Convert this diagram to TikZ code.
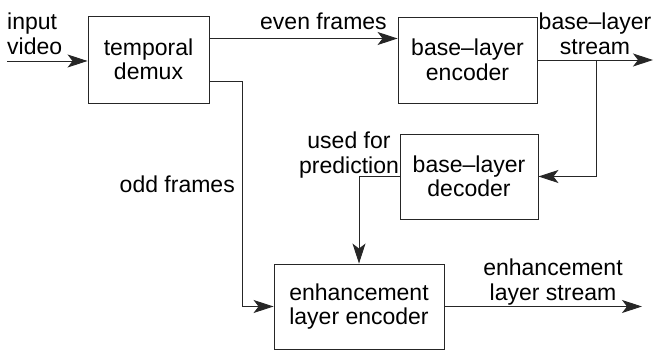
\documentclass[tikz,border=0pt]{standalone}
\usepackage{fontspec}
\setmainfont{Liberation Sans}
\usetikzlibrary{arrows.meta}
\begin{document}
\begin{tikzpicture}[x=1pt,y=-1pt,
  lbl/.style={inner sep=0pt, font=\fontsize{23}{24.5}\selectfont},
  block/.style={draw=black!85, line width=0.9pt, inner sep=0pt, align=center,
    font=\fontsize{23}{24.5}\selectfont},
  arr/.style={draw=black!85, line width=0.9pt,
    -{Stealth[length=20pt,width=13pt,inset=5pt]}},
  wire/.style={draw=black!85, line width=0.9pt}]
\useasboundingbox (0,0) rectangle (659,352);

% processing blocks
\node[block, minimum width=121pt, minimum height=87pt] (demux) at (148.5,59.5) {temporal\\demux};
\node[block, minimum width=139pt, minimum height=86pt] (enc) at (467.5,60) {base–layer\\encoder};
\node[block, minimum width=138pt, minimum height=85pt] (dec) at (469,176.5) {base–layer\\decoder};
\node[block, minimum width=170pt, minimum height=85pt] (enh) at (359,306.5) {enhancement\\layer encoder};

% free ends of the connectors
\coordinate (src)  at (7,61);
\coordinate (tap)  at (596,60);
\coordinate (bout) at (653,60);
\coordinate (eout) at (642,306.5);

% connectors
\draw[arr] (src) -- (src -| demux.west);
\draw[arr] ([yshift=21pt]demux.east) -- ([yshift=21pt]demux.east -| enc.west);
\draw[arr] ([yshift=-21.5pt]demux.east) -- ++(33,0) |- (enh.west);
\draw[arr] (enc.east) -- (bout);
\draw[arr] (tap) |- (dec.east);
\draw[arr] (dec.west) -| (enh.north);
\draw[arr] (enh.east) -- (eout);

% labels
\node[lbl, anchor=north west, align=left] (linput) at (7,13) {input\\video};
\node[lbl, anchor=base west] (leven) at (260,30) {even frames};
\node[lbl, anchor=north, align=center] (lbase) at (595,13) {base–layer\\stream};
\node[lbl, anchor=north, align=center] (lused) at (349,132) {used for\\prediction};
\node[lbl, anchor=base east] (lodd) at (235,193) {odd frames};
\node[lbl, anchor=north, align=center] (lenh) at (553,259) {enhancement\\layer stream};
\end{tikzpicture}
\end{document}
